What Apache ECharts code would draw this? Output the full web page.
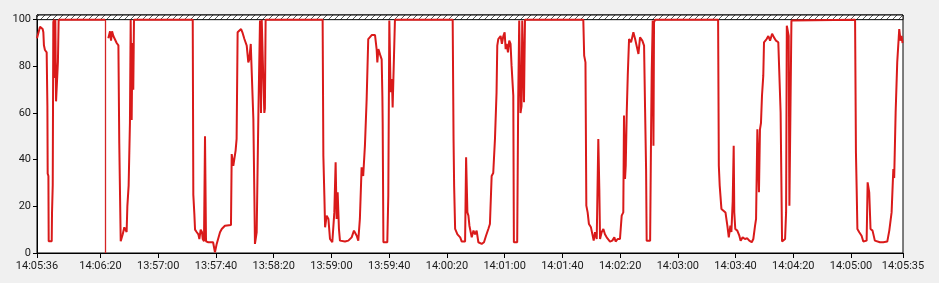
<!DOCTYPE html>
<html>
<head>
<meta charset="utf-8">
<script src="https://cdn.jsdelivr.net/npm/echarts@6/dist/echarts.min.js"></script>
<style>
html,body{margin:0;padding:0;background:#f0f0f0;}
#c{width:939px;height:283px;}
</style>
</head>
<body>
<div id="c"></div>
<script>
// x positions in seconds within the 600 s circular window
var tickPositions = [0, 44, 84, 124, 164, 204, 244, 284, 324, 364, 404, 444, 484, 524, 564, 600];
var tickLabels = ["14:05:36", "14:06:20", "13:57:00", "13:57:40", "13:58:20", "13:59:00", "13:59:40",
  "14:00:20", "14:01:00", "14:01:40", "14:02:20", "14:03:00", "14:03:40", "14:04:20", "14:05:00", "14:05:35"];
var yTicks = [0, 20, 40, 60, 80, 100];
var cursorPos = 47.3;
// [seconds, percent]; null = gap at the write cursor
var samples = [
[0,92],[2.1,97],[3.9,96],[4.4,94.6],[4.8,89],[5.5,87],[6.7,86],[7.2,63],[7.4,34],[7.9,33],[8.1,5],[10.2,5],[10.4,17],[10.9,29],[11.3,99],[11.8,100],[12.2,75],[12.7,100],[13.2,65],[14.1,65],[14.5,82],[15,100],[47.1,100],[48,null],
[49.4,92],[50.6,95],[51.3,91],[52,95],[52.9,93],[54,93],[55.2,90],[56.4,89],[57,47],[57.5,47],[58,5],[59.4,8],[60.5,11],[62.1,9],[62.6,20],[63.5,29],[64.4,56],[64.9,100],[65.6,57],[66.1,90],[66.7,70],[67.2,100],[107.9,100],[108.3,25],[109,17],[109.5,10],[110.6,9],[111.8,8],[112.5,6],[113.4,10],[114.3,9],[114.8,6],[115.7,5],[116.4,50],[117.1,5],[118.7,4.6],[122,4.6],[123.3,0.3],[124.5,3.9],[126.8,8.9],[128,10.3],[130.2,11.7],[134.4,12],[134.9,42.4],[136,37.4],[137.6,43.9],[138.3,48.9],[139,94.6],[139.9,95.3],[141.4,96],[142.3,94.6],[143.7,91.7],[145.3,88.9],[146.4,81.7],[147.1,83],[148.1,89.6],[149.4,88.9],[149.9,57.4],[150.6,24.6],[151,3.9],[152.2,8.9],[153.4,60.3],[154.5,99.6],[155.2,60],[155.7,100],[156.8,74.6],[157.5,60],[157.9,62],[158.4,100],
[197.9,100],[198.4,41.7],[199.1,24.6],[199.6,11],[200.7,16],[201.9,14.6],[203,6],[204.6,4.6],[206,17.4],[206.9,38.9],[207.6,14.6],[208.3,26],[209.2,10.3],[209.9,5.3],[213.4,4.9],[215.7,5.3],[218,6.7],[219.6,9.6],[221.5,7.4],[222.6,5.3],[223.7,14.6],[224.9,36.7],[226,33],[227.2,46],[228.4,66],[229.5,91.7],[231.9,93.4],[234.2,93.4],[235.3,87.4],[235.8,81.7],[236.5,87.4],[237.7,85],[238.8,83],[239.3,67],[239.5,56],[240,4.6],[242.7,4.6],[243.4,24.6],[244.1,99.6],[245,68.9],[245.9,74.6],[246.4,62.4],[247.3,62.4],[248,100],
[288,100],[288.6,48.9],[289,28.9],[289.7,10.3],[291.3,8],[293.2,6.7],[294.3,4.9],[296.6,4.9],[297.3,41],[298.2,17.4],[298.9,16],[299.6,11.7],[301.2,6.7],[302.4,9.6],[303.5,8],[304.6,9.6],[305.8,4.6],[306.9,5.3],[308.1,3.9],[309.7,4.6],[311.1,7.4],[312.7,10.3],[313.8,12.4],[315,33],[316.1,34.3],[317.3,48.9],[318.4,68.9],[318.9,88.9],[319.6,91.7],[321.2,93],[322.1,89.6],[323.1,93],[324,94.6],[324.7,87.4],[325.4,89.6],[326.3,86],[327.2,91],[328.1,89.6],[328.8,80.3],[330,67.4],[330.4,4.6],[332.7,4.6],[333.4,66],[334.1,99.6],[335,60],[335.7,63],[336.2,99.6],[337.4,64.6],[338.1,100],
[378.5,100],[379.1,84.6],[380,81.7],[380.6,20.3],[381.5,17.4],[382.4,12.4],[383.8,11],[384.8,8],[385.7,5.3],[386.6,8.9],[387.8,6],[388.9,48.9],[389.6,27.4],[390.1,6],[391.2,8.9],[392.4,10.3],[393.5,8],[394.7,6.7],[395.8,6],[397,4.9],[398.6,5.3],[400,6.7],[400.9,4.9],[402.3,6],[403.9,6],[405.1,16],[406.2,17.4],[406.7,58.9],[407.4,31.7],[407.9,37.4],[408.6,60.3],[409.3,76],[410.2,91.7],[411.6,90.3],[413.2,94.6],[414.4,91.7],[415.5,91],[416.7,85.3],[417.8,92.4],[419.4,91],[420.6,88.9],[421.3,61.7],[422,36],[422.4,5.3],[424.8,5.3],[425.5,54.6],[425.9,77.4],[426.6,99.6],[427.1,46],[427.5,98.9],[428.3,100],
[471.9,100],[472.4,37.4],[473,28.9],[474.2,18.9],[475.3,18.1],[477,17.4],[478.3,11.7],[479.3,6.7],[480.4,11.7],[481.1,9],[482,22],[482.7,46],[483.1,17.4],[483.8,10.3],[485.2,9.6],[486.6,7.4],[487.5,5.3],[488.9,6.7],[490.5,6],[492.1,6.3],[493.5,5.3],[495.2,4.6],[496.3,6],[497.5,11.7],[498.2,14.6],[499.1,53],[500.2,26],[500.9,53],[501.6,55.7],[502.3,67.4],[503.2,76],[503.7,90.3],[504.6,91],[505.5,91.7],[506.7,93],[507.9,91],[509.3,94],[510.6,92.4],[512,91],[513.6,90.3],[514.8,89.6],[515.2,60.3],[515.7,33],[516.2,4.9],[518.3,6],[519,17.4],[519.5,97.4],[520.1,98.1],[520.8,93],[521.3,20.3],[522.2,20.3],[522.7,99.6],[523.1,100],
[566.8,100],[567.4,43],[567.9,27.4],[568.4,10.3],[569.7,8.9],[571.3,7.4],[572.5,4.9],[574.8,5.3],[575.5,30.3],[576.6,26],[577.5,10.3],[578.9,9.6],[580.5,5.3],[581.7,4.6],[584,4.6],[586.3,4.6],[589.1,4.9],[590.5,9.6],[592.1,17.4],[593.3,36],[593.9,32.1],[594.9,60.3],[596,81.7],[597.4,96],[598.3,91],[599,93],[599.7,90]
];

var seriesData = samples.map(function (p) { return [p[0], p[1] === null ? '-' : p[1]]; });

// diagonal hatch pattern for the >100 band
var pc = document.createElement('canvas');
pc.width = 6; pc.height = 6;
var g = pc.getContext('2d');
g.fillStyle = '#ffffff'; g.fillRect(0, 0, 6, 6);
g.strokeStyle = '#555555'; g.lineWidth = 1;
g.beginPath(); g.moveTo(0, 6); g.lineTo(6, 0); g.stroke();

var font = 'Roboto';
var chart = echarts.init(document.getElementById('c'), null, {renderer: 'canvas'});
chart.setOption({
  animation: false,
  backgroundColor: '#f0f0f0',
  grid: {left: 37, right: 36, top: 15, bottom: 30, show: true, backgroundColor: '#ffffff', borderColor: '#000000', borderWidth: 1},
  xAxis: {
    type: 'value', min: 0, max: 600,
    axisLine: {show: true, lineStyle: {color: '#000000', width: 1}},
    axisTick: {show: true, length: 5, customValues: tickPositions, lineStyle: {color: '#000000'}},
    splitLine: {show: false},
    axisLabel: {
      customValues: tickPositions, margin: 8, color: '#1a1a1a', fontFamily: font, fontSize: 11,
      formatter: function (v) { var i = tickPositions.indexOf(v); return i >= 0 ? tickLabels[i] : ''; }
    }
  },
  yAxis: {
    type: 'value', min: 0, max: 102,
    axisLine: {show: true, lineStyle: {color: '#000000', width: 1}},
    axisTick: {show: true, length: 4, customValues: yTicks, lineStyle: {color: '#000000'}},
    splitLine: {show: false},
    axisLabel: {customValues: yTicks, margin: 6, color: '#1a1a1a', fontFamily: font, fontSize: 11}
  },
  series: [{
    type: 'line',
    data: seriesData,
    showSymbol: false,
    symbol: 'none',
    connectNulls: false,
    color: '#d91a1a',
    lineStyle: {color: '#d91a1a', width: 2},
    markArea: {
      silent: true,
      itemStyle: {color: {image: pc, repeat: 'repeat'}, borderColor: '#000000', borderWidth: 1},
      data: [[{yAxis: 100}, {yAxis: 102}]]
    },
    markLine: {
      silent: true, symbol: ['none', 'none'], label: {show: false},
      itemStyle: {color: '#d42424'},
      lineStyle: {color: '#d42424', width: 1.3, type: 'solid', opacity: 1},
      emphasis: {disabled: true},
      data: [[{coord: [cursorPos, 0]}, {coord: [cursorPos, 100]}]]
    }
  }]
});
</script>
</body>
</html>
